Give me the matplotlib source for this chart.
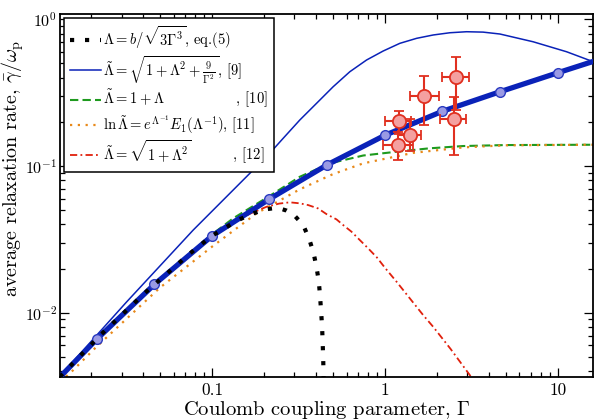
import numpy as np
import matplotlib
matplotlib.use('Agg')
import matplotlib.pyplot as plt
from matplotlib.ticker import NullFormatter, FixedLocator

plt.rcParams['font.family'] = 'serif'
plt.rcParams['font.serif'] = ['cmr10', 'DejaVu Serif']
plt.rcParams['mathtext.fontset'] = 'cm'
plt.rcParams['axes.formatter.use_mathtext'] = True
plt.rcParams['axes.unicode_minus'] = False

# 模拟结果 (粗蓝线 + 圆点)
sim_gamma = [0.0215, 0.0464, 0.1, 0.215, 0.464, 1.0, 2.15, 4.64, 10.0]
sim_rate = [0.00659, 0.0156, 0.0334, 0.0596, 0.102, 0.162, 0.236, 0.321, 0.432]
sim_line_gamma = [0.0132] + sim_gamma + [16.0]
sim_line_rate = [0.00365] + sim_rate + [0.516]

# 实验点
exp_gamma = [1.20, 1.39, 1.19, 1.68, 2.57, 2.50]
exp_rate = [0.2017, 0.163, 0.140, 0.299, 0.402, 0.209]
exp_gamma_lo = [1.004, 1.19, 0.974, 1.39, 2.15, 2.09]
exp_gamma_hi = [1.42, 1.61, 1.45, 2.05, 3.05, 2.93]
exp_rate_lo = [0.166, 0.127, 0.110, 0.191, 0.242, 0.1194]
exp_rate_hi = [0.238, 0.209, 0.170, 0.409, 0.556, 0.294]

# eq.(5)
eq5_gamma = [0.01316, 0.02294, 0.04084, 0.0734, 0.0997, 0.1416, 0.169, 0.204, 0.225,
             0.247, 0.27, 0.295, 0.337, 0.3646, 0.3867, 0.4025, 0.415, 0.422, 0.4279,
             0.4335, 0.4363, 0.4394, 0.4415, 0.4435]
eq5_rate = [0.00366, 0.00716, 0.01363, 0.025, 0.0334, 0.0428, 0.0471, 0.0507, 0.0515,
            0.0514, 0.0497, 0.047, 0.0396, 0.0319, 0.02565, 0.0204, 0.01627, 0.01285, 0.01015,
            0.00802, 0.00641, 0.00507, 0.00401, 0.0030]

# [9]
ref9_gamma = [0.0132, 0.032, 0.0778, 0.2112, 0.258, 0.322, 0.4025, 0.502, 0.627, 0.7836,
              0.9776, 1.221, 1.526, 1.904, 2.378, 2.97, 3.7, 4.63, 7.21, 11.26, 16.05]
ref9_rate = [0.0037, 0.01183, 0.0366, 0.1189, 0.1545, 0.2059, 0.2676, 0.347, 0.4393, 0.528,
             0.608, 0.686, 0.742, 0.782, 0.810, 0.823, 0.818, 0.794, 0.703, 0.601, 0.514]

# [10]
ref10_gamma = [0.0132, 0.0215, 0.0464, 0.1, 0.1325, 0.215, 0.322, 0.481, 0.75, 1.169,
               1.8, 2.84, 5.0, 16.0]
ref10_rate = [0.00365, 0.0066, 0.0157, 0.0342, 0.044, 0.0625, 0.0845, 0.1043, 0.118, 0.1252,
              0.132, 0.1369, 0.139, 0.1397]

# [11]
ref11_gamma = [0.0132, 0.01538, 0.021, 0.0499, 0.1, 0.181, 0.322, 0.5, 0.749, 1.458,
               2.84, 5.0, 16.0]
ref11_rate = [0.0034, 0.00396, 0.00572, 0.01481, 0.0282, 0.0476, 0.0694, 0.088, 0.1043, 0.123,
              0.134, 0.1385, 0.1397]

# [12]
ref12_gamma = [0.01316, 0.02294, 0.04084, 0.0734, 0.0997, 0.1416, 0.169, 0.207, 0.245, 0.282,
               0.322, 0.36, 0.411, 0.46, 0.525, 0.574, 0.641, 0.701, 0.80, 0.90, 1.0, 1.169,
               1.395, 1.666, 1.904, 2.4, 3.1, 3.5]
ref12_rate = [0.00366, 0.00716, 0.01363, 0.025, 0.0335, 0.0432, 0.0478, 0.0528, 0.0555, 0.0566,
              0.0557, 0.0542, 0.0514, 0.047, 0.0433, 0.0396, 0.0357, 0.0321, 0.0275, 0.0238, 0.0203,
              0.01627, 0.01253, 0.00964, 0.00802, 0.00567, 0.00376, 0.00306]

blue = '#0a22b8'

fig = plt.figure(figsize=(5.98, 4.2), dpi=100)
ax = fig.add_axes([60 / 598, 43 / 420, 533 / 598, 363 / 420])

l9, = ax.plot(ref9_gamma, ref9_rate, color=blue, lw=1.1, zorder=2)
l10, = ax.plot(ref10_gamma, ref10_rate, color='#1e9a1e', lw=1.5, ls=(0, (4, 2)), zorder=2)
l11, = ax.plot(ref11_gamma, ref11_rate, color='#e8891a', lw=1.6, ls=(0, (1, 2.5)), zorder=2)
l12, = ax.plot(ref12_gamma, ref12_rate, color='#e0200c', lw=1.3, ls=(0, (4, 1.8, 1, 1.8)), zorder=2)

ax.plot(sim_line_gamma, sim_line_rate, color=blue, lw=3.8, zorder=3)
ax.plot(sim_gamma, sim_rate, 'o', ms=7, mfc='#9a9ae4', mec='#2a3ac0', mew=1.0, zorder=3.5)

l5, = ax.plot(eq5_gamma, eq5_rate, color='black', lw=3, ls=(0, (1, 2.6)),
              dash_capstyle='butt', zorder=4)

exp_g = np.array(exp_gamma)
exp_r = np.array(exp_rate)
xerr = [exp_g - np.array(exp_gamma_lo), np.array(exp_gamma_hi) - exp_g]
yerr = [exp_r - np.array(exp_rate_lo), np.array(exp_rate_hi) - exp_r]
ax.errorbar(exp_g, exp_r, xerr=xerr, yerr=yerr, fmt='o', ms=9.5, mfc='#f4a0a0',
            mec='#e03020', mew=1.3, ecolor='#e03020', elinewidth=1.5, capsize=3.5,
            capthick=1.5, zorder=5)

ax.set_xscale('log')
ax.set_yscale('log')
ax.set_xlim(0.0132, 16.0)
ax.set_ylim(0.00365, 1.087)

ax.xaxis.set_major_locator(FixedLocator([0.1, 1, 10]))
ax.set_xticklabels(['0.1', '1', '10'])
ax.xaxis.set_minor_formatter(NullFormatter())
ax.yaxis.set_minor_formatter(NullFormatter())

ax.tick_params(which='both', direction='in', top=True, right=True, labelsize=12.5, width=0.9)
ax.tick_params(which='major', length=6.5, pad=4)
ax.tick_params(which='minor', length=3.4)
ax.tick_params(axis='y', which='major', pad=2, labelsize=11.5)
for s in ax.spines.values():
    s.set_linewidth(1.3)

ax.set_xlabel(r'Coulomb coupling parameter, $\Gamma$', fontsize=14.8, labelpad=1)
ax.set_ylabel(r'average relaxation rate, $\bar{\gamma}/\omega_{\rm p}$', fontsize=14.5)
ax.yaxis.set_label_coords(-0.064, 0.575)

labels = [
    r'$\Lambda = b/\sqrt{3\Gamma^3}$, eq.(5)',
    r'$\tilde{\Lambda} = \sqrt{1+\Lambda^2+\frac{9}{\Gamma^2}}$, [9]',
    r'$\tilde{\Lambda} = 1+\Lambda\qquad\qquad\quad\ \ $, [10]',
    r'$\ln\tilde{\Lambda} = e^{\Lambda^{-1}}E_1(\Lambda^{-1})$, [11]',
    r'$\tilde{\Lambda} = \sqrt{1+\Lambda^2}\qquad\quad\ $, [12]',
]
leg = ax.legend([l5, l9, l10, l11, l12], labels, loc='upper left', fontsize=10.5,
                frameon=True, fancybox=False, framealpha=1, edgecolor='black',
                borderaxespad=0.3, borderpad=0.4, handlelength=2.1, handletextpad=0.15,
                labelspacing=0.18)
leg.get_frame().set_linewidth(1.1)

fig.savefig('out.png', dpi=100)
